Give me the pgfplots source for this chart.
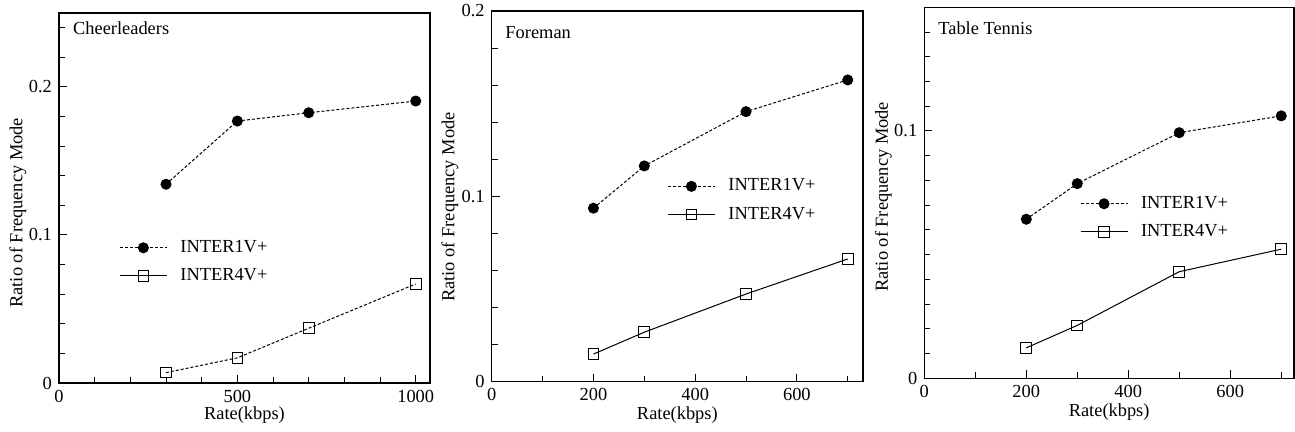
\documentclass[border=0pt]{standalone}
\usepackage{fontspec}
\setmainfont{Liberation Serif}
\usepackage{pgfplots}
\pgfplotsset{compat=1.18}

\pgfplotsset{
  panel/.style={
    scale only axis,
    axis line style={line width=0.6pt},
    tick align=inside, xtick pos=left, ytick pos=left,
    major tick length=4pt, minor tick length=3pt,
    every tick/.append style={black, line width=0.5pt},
    /pgf/number format/assume math mode=true,
    /pgf/number format/1000 sep={},
    scaled ticks=false,
    yticklabel style={/pgf/number format/fixed},
    xlabel={Rate(kbps)}, ylabel={Ratio of Frequency Mode},
    xmin=0, ymin=0,
    legend style={draw=none, fill=none, anchor=north west, row sep=2.5pt, column sep=4.5pt, nodes={inner sep=2pt}},
    legend cell align=left,
    legend image code/.code={\draw[mark repeat=2,mark phase=2,##1] plot coordinates {(0pt,0pt) (11.75pt,0pt) (23.5pt,0pt)};},
  },
  s1/.style={black, line width=0.5pt, dash pattern=on 1.5pt off 1pt, mark=*, mark size=2.5pt, mark options={solid}},
  s4/.style={black, line width=0.5pt, solid, mark=square, mark size=2.67pt, mark options={solid, fill=white}},
}

\begin{document}
\begin{tikzpicture}[font=\fontsize{9.2}{11}\selectfont]
\useasboundingbox (0,0) rectangle (647.5pt,216pt);

% Cheerleaders
\begin{axis}[panel, at={(29.5pt,24.5pt)}, anchor=south west, width=185.5pt, height=185pt,
  xmax=1040, ymax=0.25, xtick={0,500,1000}, minor xtick={100,200,300,400,600,700,800,900},
  ytick={0,0.1,0.2}, minor ytick={0.02,0.04,0.06,0.08,0.12,0.14,0.16,0.18,0.22,0.24},
  xlabel style={at={(axis description cs:0.5,-0.0865)}, anchor=center},
  ylabel style={at={(axis description cs:-0.1105,0.46)}, anchor=center},
  legend style={at={(axis description cs:0.1455,0.4086)}}]
\addplot[s1] coordinates {(300,0.1343) (500,0.1770) (700,0.1826) (1000,0.1905)};
\addplot[s4, dash pattern=on 1.5pt off 1pt, mark options={solid}, forget plot] coordinates {(300,0.0070) (500,0.0170) (700,0.0370) (1000,0.0669)};
\addlegendimage{s4}
\legend{INTER1V+, INTER4V+}
\node[anchor=west, inner sep=0pt] at (rel axis cs:0.037,0.959) {Cheerleaders};
\end{axis}

% Foreman
\begin{axis}[panel, at={(245.85pt,25.15pt)}, anchor=south west, width=185.65pt, height=185.35pt,
  xmax=730, ymax=0.2, xtick={0,200,400,600}, minor xtick={100,300,500,700},
  ytick={0,0.1,0.2}, minor ytick={0.02,0.04,0.06,0.08,0.12,0.14,0.16,0.18},
  xlabel style={at={(axis description cs:0.5,-0.0898)}, anchor=center},
  ylabel style={at={(axis description cs:-0.1123,0.471)}, anchor=center},
  legend style={at={(axis description cs:0.456,0.570)}}]
\addplot[s1] coordinates {(200,0.0936) (300,0.1164) (500,0.1457) (700,0.1628)};
\addplot[s4] coordinates {(200,0.0149) (300,0.0267) (500,0.0473) (700,0.0662)};
\legend{INTER1V+, INTER4V+}
\node[anchor=west, inner sep=0pt] at (rel axis cs:0.036,0.943) {Foreman};
\end{axis}

% Table Tennis
\begin{axis}[panel, at={(462.15pt,26.85pt)}, anchor=south west, width=184.85pt, height=185.5pt,
  xmax=725, ymax=0.15, xtick={0,200,400,600}, minor xtick={100,300,500,700},
  ytick={0,0.1}, minor ytick={0.01,0.02,0.03,0.04,0.05,0.06,0.07,0.08,0.09,0.11,0.12,0.13,0.14},
  xlabel style={at={(axis description cs:0.5,-0.09)}, anchor=center},
  ylabel style={at={(axis description cs:-0.111,0.489)}, anchor=center},
  legend style={at={(axis description cs:0.404,0.5135)}}]
\addplot[s1] coordinates {(200,0.0643) (300,0.0787) (500,0.0993) (700,0.1061)};
\addplot[s4] coordinates {(200,0.0123) (300,0.0214) (500,0.0431) (700,0.0522)};
\legend{INTER1V+, INTER4V+}
\node[anchor=west, inner sep=0pt] at (rel axis cs:0.037,0.944) {Table Tennis};
\end{axis}
\end{tikzpicture}
\end{document}
